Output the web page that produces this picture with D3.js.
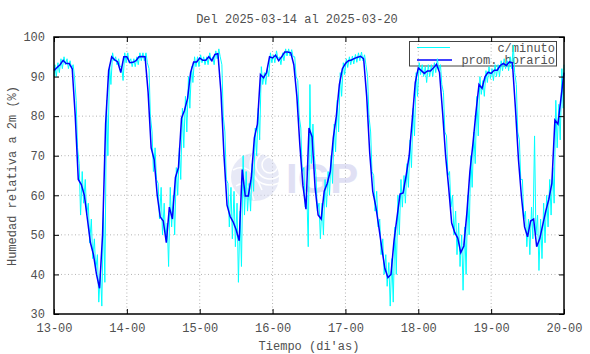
<!doctype html>
<html>

<head>
    <meta charset="UTF-8">
    <title>Humedad relativa</title>
    <script src="https://d3js.org/d3.v7.min.js"></script>
    <style>
        body { margin: 0; background: #fff; }
        text { font-family: "Liberation Mono", "DejaVu Sans Mono", monospace; fill: #505050; }
    </style>
</head>

<body>
    <script>
        var width = 590;
        var height = 354;

        var title = "Del 2025-03-14 al 2025-03-20";
        var dayLabels = ["13-00", "14-00", "15-00", "16-00", "17-00", "18-00", "19-00", "20-00"];
        var yTicks = [30, 40, 50, 60, 70, 80, 90, 100];

        // prom. horario, one value per hour from 13-00 to 20-00
        var hourly = [
            91.5, 92.3, 93, 94.1, 93.3, 93.3, 92, 80, 64, 62.7, 60, 54, 48, 45, 40, 36.5, 50, 78, 91.5, 95, 94.2, 93.7, 91, 95,
            95, 93.5, 93.6, 94, 95, 95.1, 95, 86, 72, 69, 60, 54.5, 53.5, 48, 57, 54, 64.5, 67, 79.5, 81.5, 84.5, 91, 93.7, 93.7,
            94.7, 94.1, 94.1, 95, 94, 95.6, 95.8, 86, 70, 57.5, 54.7, 53.3, 51.3, 48.5, 66.5, 59.8, 59.8, 64.5, 74.5, 78, 90.5, 89.7, 91, 95,
            94.7, 95.4, 94, 95, 96.2, 96.2, 96, 93, 85, 72.5, 62.5, 56.5, 77, 74.8, 62, 55, 54, 61, 63, 66, 74.5, 80, 88, 92,
            93.3, 94, 94.2, 94.6, 94.9, 95.1, 94.5, 85, 70.7, 61, 57.2, 52, 46.5, 41.5, 39.2, 40, 48.5, 54.5, 60.3, 60.6, 65, 70, 79, 88.5,
            92.2, 91.5, 90.8, 91.4, 91.4, 92.2, 93.1, 91, 81, 70, 62, 53, 50.6, 49.2, 45.5, 47.2, 55.5, 66, 73, 81, 88, 87, 90, 91.1,
            90.8, 91.6, 91.6, 92.8, 93.3, 92.8, 93.7, 93.5, 82, 69, 59.5, 52, 49.5, 53.5, 54, 47, 49, 52.5, 56, 59, 63, 79, 78, 84.5,
            91
        ];

        // c/minuto: highest and lowest reading seen in each hour
        var minuteHigh = [
            93, 93.5, 94.5, 95, 94.5, 94, 93, 84, 68, 66, 64, 58, 54, 49, 45, 41, 56, 84, 93, 96, 95, 94.5, 92.5, 96,
            96, 94.5, 94.5, 95, 96, 96, 96, 92, 76, 72, 63, 62, 58, 53, 62, 60, 67, 72, 82, 85, 90, 92.5, 95, 95,
            95.5, 95, 95, 96, 95, 96.5, 97, 93, 76, 63, 62, 61, 58, 56, 70, 66, 63, 68, 77, 82, 92.5, 91, 92, 96,
            95.5, 96.5, 95, 96, 97, 97, 96.8, 95, 89, 77, 67, 60, 88, 78, 65, 58, 58, 64, 66, 70, 78, 84, 91, 93.5,
            94.5, 95, 95.2, 95.6, 96, 96.2, 95.5, 90, 76, 65, 61, 54, 49, 45, 43, 44, 52, 60, 64, 65, 68, 74, 82, 91,
            93.5, 93, 92.5, 93, 93, 93.5, 94.5, 93, 86, 75, 66, 60, 56, 53, 50, 52, 60, 70, 76, 85, 90, 89, 91.5, 92.5,
            92, 93, 93, 94, 94.5, 94, 95, 98, 88, 74, 64, 56, 54, 57, 75, 55, 54, 58, 60, 64, 67, 84, 83, 92
        ];
        var minuteLow = [
            90, 91, 92, 93, 92, 92, 90, 72, 55, 58, 55, 48, 44, 41, 33, 32, 38, 70, 88, 94, 93, 92.5, 89, 93.5,
            93.5, 92.5, 92.5, 93, 94, 94, 93.5, 80, 66, 64, 54, 50, 49, 42, 52, 50, 60, 64, 72, 76, 82, 88.5, 92.5, 92.5,
            93.5, 93, 93, 94, 93, 94.5, 95, 80, 64, 52, 49, 47, 38, 42, 55, 56, 56, 61, 70, 74, 88, 88, 90, 93.5,
            93.5, 94.5, 93, 94, 95.2, 95.2, 95, 90, 80, 66, 57, 47, 68, 70, 56, 49, 50, 57, 60, 63, 71, 76, 85, 90.5,
            92.3, 93, 93.2, 93.6, 94, 94, 93, 80, 66, 56, 52, 45, 40, 37, 32, 33, 40, 50, 57, 58, 62, 67, 75, 85,
            90.5, 90, 88.5, 90, 90, 91, 91.5, 88, 76, 65, 57, 50, 45, 42, 36, 40, 50, 62, 68, 75, 85.5, 85, 88.5, 89.5,
            89, 90, 90, 91.5, 92, 91.5, 92, 91, 76, 64, 54, 47, 45, 49, 50, 41, 44, 48, 52, 55, 58, 72, 74, 82
        ];
        var minuteEnd = 93;

        var margin = { left: 54, right: 564, top: 37, bottom: 314 };

        var xScale = d3.scaleLinear()
            .domain([0, 168])
            .range([margin.left, margin.right]);

        var yScale = d3.scaleLinear()
            .domain([30, 100])
            .range([margin.bottom, margin.top]);

        var svg = d3.select("body").append("svg")
            .attr("width", width)
            .attr("height", height);

        // grid
        var dayHours = dayLabels.map(function (d, i) { return i * 24; });
        svg.append("g").selectAll("line").data(dayHours.slice(1, -1)).enter().append("line")
            .attr("x1", function (d) { return xScale(d); })
            .attr("x2", function (d) { return xScale(d); })
            .attr("y1", margin.top)
            .attr("y2", margin.bottom)
            .style("stroke", "#b4b4b4")
            .style("stroke-dasharray", "1,2.5");
        svg.append("g").selectAll("line").data(yTicks.slice(1, -1)).enter().append("line")
            .attr("x1", margin.left)
            .attr("x2", margin.right)
            .attr("y1", function (d) { return yScale(d); })
            .attr("y2", function (d) { return yScale(d); })
            .style("stroke", "#b4b4b4")
            .style("stroke-dasharray", "1,2.5");

        // faint logo
        var logo = svg.append("g").style("opacity", 0.55);
        logo.append("circle").attr("cx", 255).attr("cy", 177).attr("r", 24).style("fill", "#d4d8f0");
        [8, 14, 20].forEach(function (r) {
            logo.append("circle").attr("cx", 270).attr("cy", 165).attr("r", r)
                .style("fill", "none").style("stroke", "#fff").style("stroke-width", 1.5);
        });
        logo.append("path").attr("d", "M233,170 Q250,160 262,190 M236,186 Q248,178 254,200")
            .style("fill", "none").style("stroke", "#fff").style("stroke-width", 1.5);
        logo.append("text").attr("x", 286).attr("y", 193)
            .style("font-family", "Liberation Sans, Arial, sans-serif")
            .style("font-weight", "bold").style("font-size", "42px")
            .style("fill", "#c8c8ec").text("IGP");

        // legend (under data)
        var legend = svg.append("g");
        legend.append("rect").attr("x", 409.5).attr("y", 41.5).attr("width", 147).attr("height", 24.5)
            .style("fill", "none").style("stroke", "#444");
        legend.append("line").attr("x1", 417).attr("x2", 450).attr("y1", 47.5).attr("y2", 47.5)
            .style("stroke", "#00ffff");
        legend.append("line").attr("x1", 417).attr("x2", 452).attr("y1", 60).attr("y2", 60)
            .style("stroke", "#0000ff").style("stroke-width", 1.5);
        legend.append("text").attr("x", 555).attr("y", 51.5).attr("text-anchor", "end")
            .style("font-size", "12px").text("c/minuto");
        legend.append("text").attr("x", 555).attr("y", 64).attr("text-anchor", "end")
            .style("font-size", "12px").text("prom. horario");

        // c/minuto trace: high and low of each hour
        var minutePts = [[0, minuteLow[0]]];
        minuteHigh.forEach(function (h, i) {
            minutePts.push([i + 0.3, h]);
            minutePts.push([i + 0.75, minuteLow[i]]);
        });
        minutePts.push([168, minuteEnd]);

        var line = d3.line()
            .x(function (d) { return xScale(d[0]); })
            .y(function (d) { return yScale(d[1]); });

        svg.append("path").datum(minutePts)
            .attr("d", line)
            .style("fill", "none")
            .style("stroke", "#00ffff")
            .style("stroke-width", 1);

        svg.append("path").datum(hourly.map(function (v, i) { return [i, v]; }))
            .attr("d", line)
            .style("fill", "none")
            .style("stroke", "#0000ff")
            .style("stroke-width", 1.5);

        // axes
        var xBottom = d3.axisBottom(xScale).tickValues(dayHours).tickSize(-5).tickPadding(9)
            .tickFormat(function (d, i) { return dayLabels[i]; });
        var xTop = d3.axisTop(xScale).tickValues(dayHours).tickSize(-5).tickFormat("");
        var yLeft = d3.axisLeft(yScale).tickValues(yTicks).tickSize(-5).tickPadding(9);
        var yRight = d3.axisRight(yScale).tickValues(yTicks).tickSize(-5).tickFormat("");

        function styleAxis(g) {
            g.select(".domain").remove();
            g.selectAll("line").style("stroke", "#000");
            g.selectAll("text").style("font-family", "Liberation Mono, monospace")
                .style("font-size", "12px").style("fill", "#505050");
        }

        svg.append("g").attr("transform", "translate(0," + margin.bottom + ")").call(xBottom).call(styleAxis);
        svg.append("g").attr("transform", "translate(0," + margin.top + ")").call(xTop).call(styleAxis);
        svg.append("g").attr("transform", "translate(" + margin.left + ",0)").call(yLeft).call(styleAxis);
        svg.append("g").attr("transform", "translate(" + margin.right + ",0)").call(yRight).call(styleAxis);

        svg.append("rect")
            .attr("x", margin.left).attr("y", margin.top)
            .attr("width", margin.right - margin.left).attr("height", margin.bottom - margin.top)
            .style("fill", "none").style("stroke", "#000").style("stroke-width", 1.5);

        // titles
        svg.append("text").attr("x", 297).attr("y", 23).attr("text-anchor", "middle")
            .style("font-size", "12px").text(title);
        svg.append("text").attr("x", 309).attr("y", 350).attr("text-anchor", "middle")
            .style("font-size", "12px").text("Tiempo (di'as)");
        svg.append("text").attr("transform", "translate(16,176) rotate(-90)").attr("text-anchor", "middle")
            .style("font-size", "12px").text("Humedad relativa a 2m (%)");
    </script>
</body>

</html>
